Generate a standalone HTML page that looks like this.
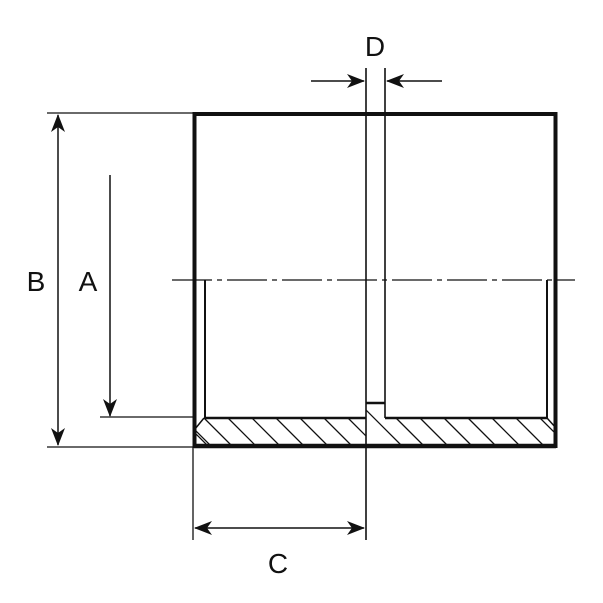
<!DOCTYPE html>
<html><head><style>html,body{margin:0;padding:0;background:#fff}svg{display:block}text{font-family:"Liberation Sans",sans-serif;font-size:28px;fill:#111}</style></head>
<body>
<svg width="603" height="603" viewBox="0 0 603 603">
<defs>
<clipPath id="h"><polygon points="197,418 366,418 366,446 195,446 195,428"/></clipPath>
<clipPath id="h2"><polygon points="366,403 385,403 385,418 546,418 556,428 556,446 366,446"/></clipPath>
<marker id="ar" markerWidth="18" markerHeight="14" refX="17" refY="7" orient="auto" markerUnits="userSpaceOnUse"><path d="M0,0 L18,7 L0,14 L5,7 Z" fill="#111"/></marker>
</defs>
<g stroke="#111" stroke-width="1.3" clip-path="url(#h)">
<path d="M180,418 l28,28 M204,418 l28,28 M228,418 l28,28 M252,418 l28,28 M276,418 l28,28 M300,418 l28,28 M324,418 l28,28 M348,418 l28,28 M190,425 l21,21"/>
</g>
<g stroke="#111" stroke-width="1.3" clip-path="url(#h2)">
<path d="M348,392 l54,54 M396,418 l28,28 M420,418 l28,28 M444,418 l28,28 M468,418 l28,28 M492,418 l28,28 M516,418 l28,28 M540,418 l28,28"/>
</g>
<g stroke="#111" fill="none">
<rect x="194.5" y="114" width="361" height="332" stroke-width="4"/>
<path d="M194,446 H556" stroke-width="4.5"/>
<path d="M205,280 V418 M547,280 V418" stroke-width="2"/>
<path d="M205,418 H366 M385,418 H547 M366,403 H385" stroke-width="2.5"/>
<path d="M366,68 V540 M385,68 V418" stroke-width="1.6"/>
<path d="M195,429 L204,418 M547,418 L556,428" stroke-width="1.5"/>
<path d="M172,280 H575" stroke-width="1.3" stroke-dasharray="40,5,5,5"/>
<path d="M47,113 H194 M47,447 H194 M100,417 H194 M193,447 V540" stroke-width="1.3"/>
<path d="M58,280 V115" stroke-width="1.5" marker-end="url(#ar)"/>
<path d="M58,280 V445" stroke-width="1.5" marker-end="url(#ar)"/>
<path d="M110,175 V416" stroke-width="1.5" marker-end="url(#ar)"/>
<path d="M280,528 H195" stroke-width="1.5" marker-end="url(#ar)"/>
<path d="M280,528 H364" stroke-width="1.5" marker-end="url(#ar)"/>
<path d="M311,81 H364" stroke-width="1.5" marker-end="url(#ar)"/>
<path d="M442,81 H387" stroke-width="1.5" marker-end="url(#ar)"/>
</g>
<text x="375" y="56" text-anchor="middle">D</text>
<text x="36" y="291" text-anchor="middle">B</text>
<text x="88" y="291" text-anchor="middle">A</text>
<text x="278" y="573" text-anchor="middle">C</text>
</svg>
</body></html>
